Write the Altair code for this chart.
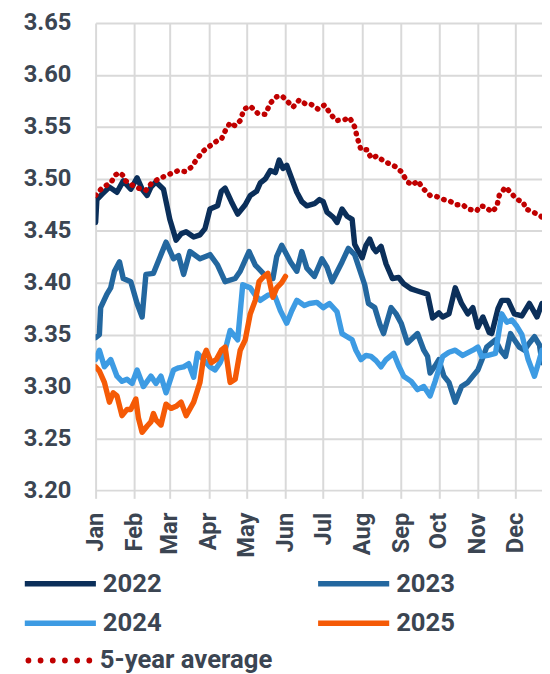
import altair as alt
import pandas as pd

# ---------------- data ----------------
months = ["Jan", "Feb", "Mar", "Apr", "May", "Jun", "Jul", "Aug", "Sep", "Oct", "Nov", "Dec"]
month_start_days = [0, 31, 59, 90, 120, 151, 181, 212, 243, 273, 304, 334]
y_ticks = [3.20, 3.25, 3.30, 3.35, 3.40, 3.45, 3.50, 3.55, 3.60, 3.65]

series_names = ["2022", "2023", "2024", "2025"]
series_colors = ["#0b2f5a", "#23679f", "#3d9be3", "#f55a06"]
avg_name = "5-year average"
avg_color = "#c00000"

days_2022 = [0, 1, 5, 11, 17, 22, 28, 33, 37, 41, 44, 48, 54, 59, 64, 68, 72, 78, 83, 87,
             91, 97, 100, 103, 108, 113, 119, 123, 128, 131, 135, 139, 143, 146, 149, 152, 156, 160, 164, 168,
             174, 178, 181, 184, 189, 192, 196, 200, 204, 206, 209, 212, 215, 218, 221, 223, 227, 231, 236, 241,
             245, 251, 256, 264, 268, 273, 276, 281, 286, 291, 296, 300, 304, 308, 313, 315, 320, 323, 328, 333,
             339, 345, 351, 355]
vals_2022 = [3.458, 3.480, 3.485, 3.492, 3.487, 3.498, 3.490, 3.501, 3.490, 3.484,
             3.492, 3.497, 3.490, 3.461, 3.441, 3.447, 3.449, 3.444, 3.446, 3.452,
             3.471, 3.474, 3.488, 3.491, 3.478, 3.466, 3.475, 3.484, 3.488, 3.496,
             3.500, 3.508, 3.506, 3.518, 3.510, 3.513, 3.500, 3.487, 3.478, 3.474,
             3.476, 3.480, 3.478, 3.468, 3.463, 3.458, 3.471, 3.464, 3.461, 3.437,
             3.430, 3.424, 3.436, 3.442, 3.433, 3.430, 3.435, 3.418, 3.404, 3.405,
             3.399, 3.394, 3.392, 3.389, 3.366, 3.371, 3.367, 3.370, 3.395, 3.380,
             3.370, 3.376, 3.357, 3.367, 3.352, 3.351, 3.375, 3.383, 3.383, 3.370,
             3.368, 3.380, 3.367, 3.380]

days_2023 = [0, 3, 4, 9, 12, 15, 19, 22, 28, 33, 37, 40, 46, 52, 56, 62, 66, 70, 75, 83,
             91, 97, 103, 111, 115, 122, 127, 134, 141, 144, 148, 155, 160, 164, 168, 174, 180, 184, 188, 196,
             201, 206, 214, 217, 222, 226, 229, 235, 239, 243, 248, 256, 261, 264, 266, 270, 273, 277, 281, 286,
             291, 296, 300, 304, 307, 311, 318, 322, 326, 330, 333, 337, 341, 345, 349, 353, 355]
vals_2023 = [3.347, 3.350, 3.376, 3.389, 3.395, 3.411, 3.420, 3.404, 3.401, 3.380,
             3.367, 3.408, 3.409, 3.427, 3.439, 3.423, 3.426, 3.408, 3.430, 3.423,
             3.427, 3.417, 3.401, 3.404, 3.411, 3.430, 3.417, 3.408, 3.404, 3.425,
             3.436, 3.420, 3.411, 3.430, 3.414, 3.406, 3.423, 3.415, 3.401, 3.420,
             3.433, 3.427, 3.398, 3.380, 3.376, 3.360, 3.351, 3.376, 3.370, 3.361,
             3.342, 3.351, 3.335, 3.329, 3.313, 3.320, 3.326, 3.310, 3.304, 3.285,
             3.300, 3.304, 3.310, 3.316, 3.325, 3.338, 3.345, 3.335, 3.329, 3.351,
             3.345, 3.338, 3.335, 3.342, 3.348, 3.340, 3.323]

days_2024 = [0, 3, 7, 12, 17, 21, 25, 29, 33, 38, 44, 48, 52, 56, 62, 66, 70, 74, 78, 81,
             85, 91, 95, 99, 103, 107, 113, 117, 123, 127, 131, 137, 142, 147, 152, 156, 160, 166, 170, 176,
             181, 186, 192, 196, 200, 204, 207, 211, 215, 219, 223, 227, 231, 237, 241, 245, 251, 256, 261, 266,
             270, 276, 281, 286, 292, 300, 304, 307, 312, 318, 323, 327, 331, 335, 339, 344, 349, 352, 355]
vals_2024 = [3.326, 3.335, 3.319, 3.326, 3.310, 3.305, 3.307, 3.303, 3.316, 3.300,
             3.310, 3.303, 3.310, 3.294, 3.316, 3.318, 3.319, 3.322, 3.309, 3.332,
             3.327, 3.319, 3.316, 3.323, 3.335, 3.354, 3.345, 3.398, 3.395, 3.388,
             3.383, 3.388, 3.389, 3.373, 3.361, 3.373, 3.383, 3.378, 3.380, 3.381,
             3.376, 3.380, 3.372, 3.351, 3.348, 3.345, 3.335, 3.326, 3.330, 3.329,
             3.325, 3.319, 3.326, 3.332, 3.320, 3.310, 3.305, 3.297, 3.300, 3.291,
             3.305, 3.329, 3.333, 3.335, 3.330, 3.335, 3.338, 3.329, 3.330, 3.332,
             3.370, 3.362, 3.364, 3.358, 3.350, 3.326, 3.310, 3.322, 3.335]

days_2025 = [0, 3, 7, 11, 14, 17, 21, 25, 28, 32, 34, 37, 41, 44, 46, 48, 52, 56, 60, 64,
             68, 72, 78, 83, 86, 88, 92, 96, 100, 103, 107, 111, 115, 119, 123, 127, 130, 133, 137, 141,
             144, 148, 151]
vals_2025 = [3.319, 3.315, 3.304, 3.285, 3.294, 3.291, 3.272, 3.278, 3.278, 3.288,
             3.270, 3.256, 3.262, 3.266, 3.274, 3.268, 3.263, 3.283, 3.279, 3.281,
             3.285, 3.272, 3.285, 3.304, 3.329, 3.335, 3.323, 3.326, 3.335, 3.338,
             3.304, 3.307, 3.335, 3.345, 3.370, 3.383, 3.401, 3.405, 3.409, 3.386,
             3.395, 3.400, 3.406]

days_avg = [0, 5, 9, 13, 16, 19, 22, 24, 29, 34, 40, 44, 50, 58, 66, 71, 76, 80, 85, 89,
            96, 100, 103, 107, 111, 115, 118, 123, 129, 135, 139, 144, 148, 153, 157, 162, 167, 171, 177, 182,
            186, 191, 198, 202, 206, 208, 211, 216, 219, 224, 228, 231, 238, 243, 248, 252, 256, 261, 266, 271,
            277, 281, 287, 292, 296, 303, 306, 310, 315, 319, 321, 326, 330, 335, 340, 342, 348, 354, 357]
vals_avg = [3.484, 3.491, 3.494, 3.498, 3.504, 3.506, 3.503, 3.498, 3.494, 3.491,
            3.489, 3.495, 3.500, 3.504, 3.508, 3.507, 3.511, 3.518, 3.526, 3.530,
            3.536, 3.538, 3.546, 3.554, 3.551, 3.556, 3.567, 3.570, 3.563, 3.562,
            3.573, 3.579, 3.580, 3.574, 3.569, 3.576, 3.572, 3.572, 3.567, 3.571,
            3.564, 3.556, 3.557, 3.559, 3.550, 3.540, 3.528, 3.528, 3.520, 3.522,
            3.518, 3.516, 3.512, 3.507, 3.497, 3.494, 3.498, 3.490, 3.484, 3.483,
            3.480, 3.479, 3.475, 3.475, 3.471, 3.469, 3.474, 3.473, 3.468, 3.473,
            3.484, 3.492, 3.487, 3.480, 3.478, 3.471, 3.468, 3.464, 3.461]

# ---------------- tables ----------------
all_days = {"2022": days_2022, "2023": days_2023, "2024": days_2024, "2025": days_2025}
all_vals = {"2022": vals_2022, "2023": vals_2023, "2024": vals_2024, "2025": vals_2025}


def table(names):
    rows = []
    for name in names:
        for d, v in zip(all_days[name], all_vals[name]):
            rows.append({"day": d, "value": v, "series": name})
    return pd.DataFrame(rows)


df_avg = pd.DataFrame({"day": days_avg, "value": vals_avg, "series": avg_name})

# ---------------- styling ----------------
FONT = "Roboto"
TEXT = "#3b4552"
GRID = "#d9d9d9"

label_expr = ("[" + ",".join(f"'{m}'" for m in months) + "][indexof(["
              + ",".join(str(d) for d in month_start_days) + "], datum.value)]")

x_enc = alt.X("day:Q", title=None,
              scale=alt.Scale(domain=[0, 355], nice=False, zero=False),
              axis=alt.Axis(values=month_start_days, labelExpr=label_expr, labelAngle=-90,
                            labelFont=FONT, labelFontSize=24, labelFontWeight="bold", labelColor=TEXT,
                            labelPadding=14, tickSize=8, tickWidth=2, tickColor=GRID,
                            grid=True, gridColor=GRID, gridWidth=2, domain=False,
                            labelOverlap=False, labelFlush=False))
y_enc = alt.Y("value:Q", title=None,
              scale=alt.Scale(domain=[3.20, 3.65], nice=False, zero=False),
              axis=alt.Axis(values=y_ticks, format=".2f",
                            labelFont=FONT, labelFontSize=24, labelFontWeight="bold", labelColor=TEXT,
                            labelPadding=25, ticks=False, domain=False,
                            grid=True, gridColor=GRID, gridWidth=2,
                            labelOverlap=False, labelFlush=False))

dots_path = " ".join(
    f"M{cx - 0.04:.3f},0 a0.04,0.04 0 1,0 0.08,0 a0.04,0.04 0 1,0 -0.08,0"
    for cx in [-0.856, -0.514, -0.171, 0.171, 0.514, 0.856]
)

LEGEND_X = -74.7
ROW_OFFSET = 33  # legend top to row centre
PLOT_TOP = 19


def legend(row_centre, **kw):
    return alt.Legend(title=None, orient="none", legendX=LEGEND_X,
                      legendY=row_centre - PLOT_TOP - ROW_OFFSET, padding=0,
                      labelFont=FONT, labelFontSize=26, labelFontWeight="bold",
                      labelColor=TEXT, labelOffset=4, labelLimit=300, **kw)


def year_layer(names, colors, row_centre):
    return alt.Chart(table(names)).mark_line(
        strokeWidth=5.5, strokeJoin="round", strokeCap="round", clip=True
    ).encode(
        x=x_enc, y=y_enc,
        color=alt.Color("series:N",
                        scale=alt.Scale(domain=names, range=colors),
                        legend=legend(row_centre, columns=2, columnPadding=147,
                                      symbolType="stroke", symbolSize=5184, symbolStrokeWidth=5.5)),
    )


row1 = year_layer(series_names[:2], series_colors[:2], 580.7)
row2 = year_layer(series_names[2:], series_colors[2:], 620.7)

avg = alt.Chart(df_avg).mark_line(strokeWidth=5.5, strokeDash=[0.5, 7], strokeCap="round", clip=True).encode(
    x=x_enc, y=y_enc,
    color=alt.Color("series:N",
                    scale=alt.Scale(domain=[avg_name], range=[avg_color]),
                    legend=legend(660, symbolType=dots_path, symbolSize=5184,
                                  symbolStrokeWidth=3, symbolDash=[1000, 1],
                                  symbolFillColor=avg_color)),
)

chart = (
    alt.layer(row1, row2, avg)
    .resolve_scale(color="independent")
    .resolve_legend(color="independent")
    .properties(width=452, height=473.3,
                padding={"left": 88.7, "top": 11, "right": 0, "bottom": 183},
                autosize=alt.AutoSizeParams(type="none"))
    .configure_view(stroke=None)
)

chart.save("out.html", embed_options={"renderer": "svg", "actions": False})
